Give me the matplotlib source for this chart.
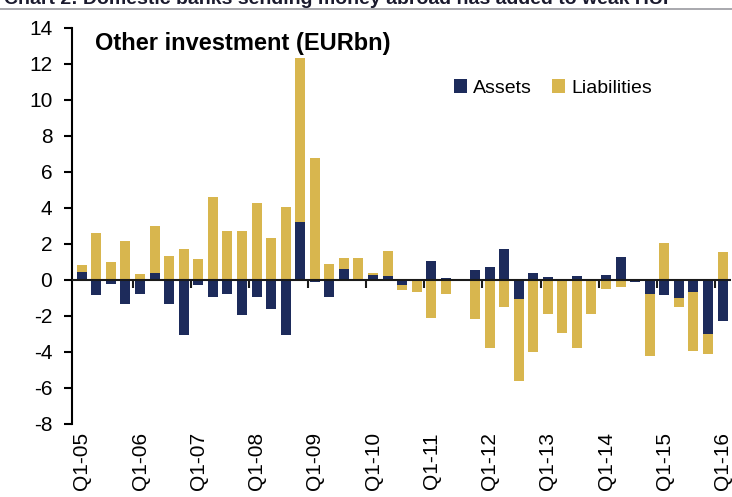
import matplotlib
matplotlib.use("Agg")
import matplotlib.pyplot as plt
from matplotlib.lines import Line2D
import numpy as np

plt.rcParams['font.family'] = ['Liberation Sans', 'DejaVu Sans']

quarters = [f"Q{q}-{y:02d}" for y in range(5, 16) for q in range(1, 5)] + ["Q1-16"]

assets = [0.43, -0.83, -0.22, -1.35, -0.80, 0.37, -1.35, -3.05,
          -0.28, -0.96, -0.80, -1.94, -0.96, -1.61, -3.05, 3.24,
          -0.12, -0.95, 0.59, 0.02, 0.28, 0.19, -0.28, -0.05,
          1.07, 0.10, 0.00, 0.56, 0.74, 1.70, -1.07, 0.41,
          0.15, -0.05, 0.19, 0.00, 0.26, 1.26, -0.12, -0.78,
          -0.83, -1.02, -0.65, -3.00, -2.31]

liabilities = [0.80, 2.60, 0.98, 2.17, 0.33, 3.00, 1.35, 1.72,
               1.17, 4.63, 2.69, 2.74, 4.26, 2.31, 4.04, 12.30,
               6.75, 0.87, 1.24, 1.20, 0.37, 1.63, -0.56, -0.65,
               -2.10, -0.80, -0.05, -2.19, -3.80, -1.48, -5.60, -4.02,
               -1.89, -2.93, -3.80, -1.89, -0.52, -0.41, -0.10, -4.20,
               2.04, -1.48, -3.94, -4.10, 1.57]

yticks = list(range(-8, 16, 2))

navy = '#1d2b5b'
gold = '#d8b64e'

fig = plt.figure(figsize=(7.32, 4.97), dpi=100)
ax = fig.add_axes([0.098, 0.147, 0.901, 0.797])

x = np.arange(len(quarters))
ax.bar(x, liabilities, width=0.69, color=gold, label='Liabilities', zorder=2)
ax.bar(x, assets, width=0.69, color=navy, label='Assets', zorder=3)

ax.set_xlim(-0.69, len(quarters) - 0.4)
ax.set_ylim(-8, 14)
ax.set_yticks(yticks)
ax.set_yticklabels([str(v) for v in yticks], fontsize=15)
ax.tick_params(axis='y', direction='out', length=6, width=1.5, pad=8)

label_idx = [i for i, q in enumerate(quarters) if q.startswith('Q1')]
ax.set_xticks(label_idx)
ax.set_xticklabels([quarters[i] for i in label_idx], rotation=90, fontsize=15)
ax.tick_params(axis='x', length=0, pad=6)

for s in ['top', 'right', 'bottom']:
    ax.spines[s].set_visible(False)
ax.spines['left'].set_linewidth(1.5)

ax.axhline(0, color='#1a1a1a', linewidth=1.5, zorder=4)

# category boundary ticks on the zero line
ylo, yhi = ax.get_ylim()
sec = ax.secondary_xaxis((0 - ylo) / (yhi - ylo))
sec.set_xticks([i - 0.5 for i in label_idx[1:]])
sec.set_xticklabels([])
sec.tick_params(direction='out', length=6, width=1.5, color='#1a1a1a')
sec.spines['bottom'].set_visible(False)

ax.text(0.035, 0.99, 'Other investment (EURbn)', transform=ax.transAxes,
        fontsize=17, fontweight='bold', va='top', ha='left')

handles = [ax.patches[len(quarters)], ax.patches[0]]
leg = ax.legend(handles, ['Assets', 'Liabilities'], loc='upper right',
                bbox_to_anchor=(0.906, 0.915), ncol=2, frameon=False, fontsize=14,
                handlelength=0.7, handleheight=0.7, handletextpad=0.3,
                columnspacing=1.0)

fig.text(0.005, 1 - 4 / 497, 'Chart 2: Domestic banks sending money abroad has added to weak HUF',
         fontsize=14, fontweight='bold', color='#1a1a2e', va='baseline', ha='left')
fig.add_artist(Line2D([0, 1], [1 - 9 / 497, 1 - 9 / 497], transform=fig.transFigure,
                      color='#9a9aa0', linewidth=1.2))

fig.savefig('out.png', dpi=100)
